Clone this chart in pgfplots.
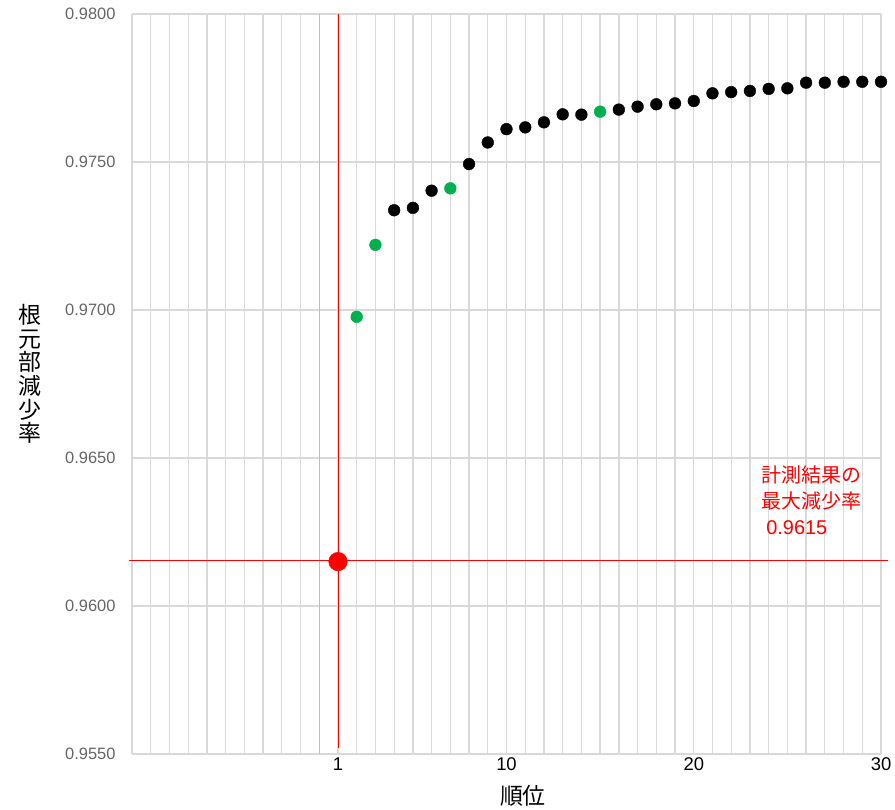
\documentclass[border=0pt]{standalone}
\usepackage{pgfplots}
\pgfplotsset{compat=1.18}
\usepackage{fontspec}
\setmainfont{Liberation Sans}
\newfontfamily\cjk{Noto Sans CJK JP}
\definecolor{gridgray}{HTML}{D9D9D9}
\definecolor{axgray}{HTML}{BFBFBF}
\definecolor{ticktxt}{HTML}{666666}
\definecolor{xlgreen}{HTML}{00B050}
\definecolor{xlred}{HTML}{FF0000}
\begin{document}
\begin{tikzpicture}
\begin{axis}[
  width=749bp, height=740bp, scale only axis,
  xmin=-10, xmax=30, ymin=0.955, ymax=0.98,
  xtick={1,10,20,30},
  minor xtick={-10,-9,...,30},
  ytick={0.955,0.96,0.965,0.97,0.975,0.98},
  scaled y ticks=false,
  /pgf/number format/assume math mode=true,
  yticklabel style={/pgf/number format/fixed, /pgf/number format/fixed zerofill, /pgf/number format/precision=4,
    font=\fontsize{16.5}{20}\selectfont, text=ticktxt, xshift=-13bp},
  xticklabel style={font=\fontsize{18.5}{22}\selectfont, text=black},
  xmajorgrids=false, xminorgrids=true, ymajorgrids=true,
  major grid style={gridgray, line width=1.3bp},
  minor grid style={gridgray, line width=1.3bp},
  axis line style={draw=none},
  tick style={draw=none},
  minor tick style={draw=none},
  clip=false,
  xlabel={順位},
  xlabel style={font=\cjk\fontsize{23}{26}\selectfont, at={(axis description cs:0.522,-0.0568)}, anchor=center},
  ylabel={根\\元\\部\\減\\少\\率},
  ylabel style={font=\cjk\fontsize{23}{23.7}\selectfont, align=center, rotate=-90,
    at={(axis description cs:-0.136,0.5135)}, anchor=center},
]
\coordinate (sw) at (rel axis cs:0,0);
\coordinate (ne) at (rel axis cs:1,1);
% darker line at x = 0
\addplot[axgray, line width=1.3bp] coordinates {(0,0.955) (0,0.98)};
% red reference lines
\addplot[xlred, line width=0.9bp] coordinates {(1,0.9552) (1,0.98)};
\addplot[xlred, line width=0.9bp] coordinates {(-10.15,0.96155) (30.35,0.96155)};
% black points
\addplot[black, only marks, mark=*, mark size=5.9bp] coordinates {
 (4,0.97337) (5,0.97345) (6,0.97403) (8,0.97493) (9,0.97566) (10,0.97611)
 (11,0.97617) (12,0.97634) (13,0.97661) (14,0.97660) (16,0.97677) (17,0.97687)
 (18,0.97695) (19,0.97698) (20,0.97706) (21,0.97732) (22,0.97736) (23,0.97740)
 (24,0.97747) (25,0.97749) (26,0.97768) (27,0.97768) (28,0.97771) (29,0.97771)
 (30,0.97771)
};
% green points
\addplot[xlgreen, only marks, mark=*, mark size=5.9bp] coordinates {
 (2,0.96977) (3,0.97220) (7,0.97411) (15,0.97670)
};
% red point
\addplot[xlred, only marks, mark=*, mark size=9.3bp] coordinates {
 (1,0.9615)
};
\node[anchor=north west, inner sep=0pt, align=left, text=xlred, font=\fontsize{20}{26.5}\selectfont]
  at (axis cs:23.6,0.96476) {{\cjk 計測結果の}\\{\cjk 最大減少率}\\\hspace*{5bp}0.9615};
\end{axis}
\path ([shift={(-132bp,-56bp)}]sw) rectangle ([shift={(14bp,14bp)}]ne);
\end{tikzpicture}
\end{document}
